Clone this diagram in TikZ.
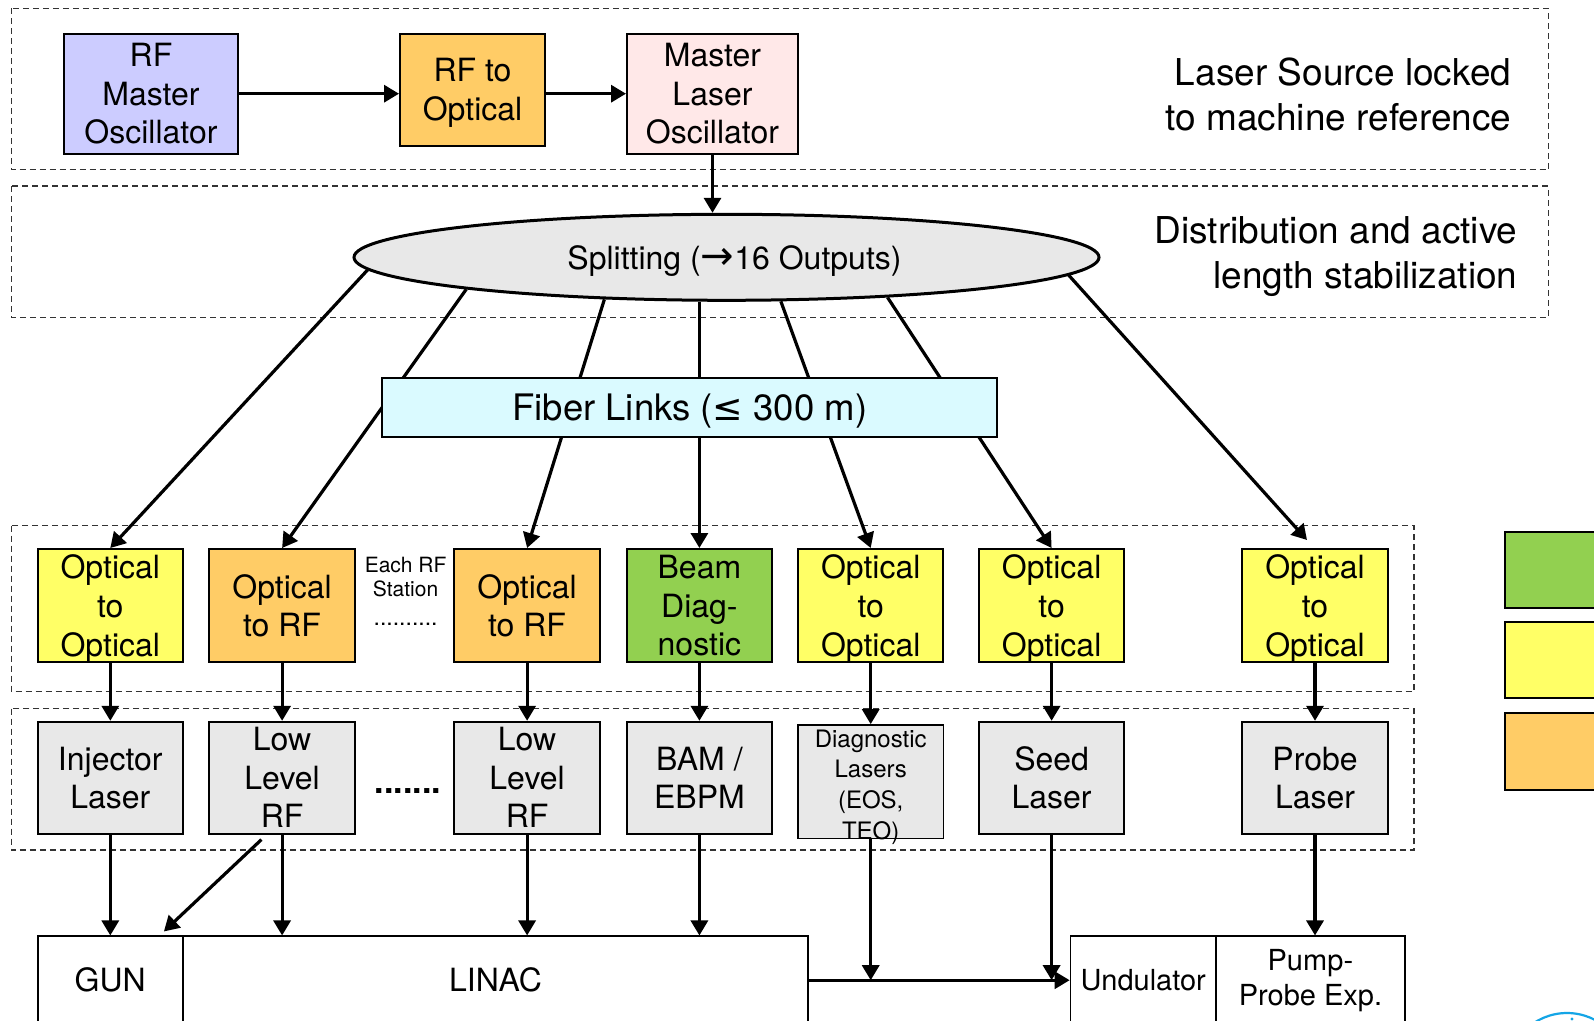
\documentclass[tikz,border=0pt]{standalone}
\usepackage{fontspec}
\setmainfont{TeX Gyre Heros}
\newfontfamily\symfont{DejaVu Sans}
\usetikzlibrary{arrows.meta,shapes.geometric}
\definecolor{lav}{RGB}{204,204,255}
\definecolor{orng}{RGB}{255,204,102}
\definecolor{pinkc}{RGB}{255,232,232}
\definecolor{grayc}{RGB}{232,232,232}
\definecolor{cyanc}{RGB}{218,250,255}
\definecolor{yel}{RGB}{255,255,102}
\definecolor{grn}{RGB}{146,208,80}
\definecolor{logob}{RGB}{20,165,230}
\begin{document}
\begin{tikzpicture}[x=1pt,y=-1pt,
  box/.style={draw, line width=2pt, inner sep=0pt, align=center, text depth=0pt, font=\fontsize{32}{38.6}\selectfont},
  rthree/.style={box, minimum width=145.4pt, minimum height=113pt},
  rfour/.style={box, fill=grayc, minimum width=145.4pt, minimum height=111.8pt},
  bot/.style={draw, line width=1.8pt, inner sep=0pt, align=center, minimum height=87.7pt},
  arr/.style={line width=3.2pt, -{Triangle[length=15pt,width=17pt]}},
  dbox/.style={draw=black!80, line width=1.2pt, dash pattern=on 6pt off 4pt},
  side/.style={anchor=east, align=right, font=\fontsize{37}{45}\selectfont},
  legend/.style={draw, line width=2pt, minimum width=130pt, anchor=north west}]
\useasboundingbox (0,0) rectangle (1594,1020);
\clip (0,0) rectangle (1594,1020);
\fill[white] (0,0) rectangle (1594,1020);

% dashed frames
\draw[dbox] (11.2,8.1) rectangle (1548.3,169.8);
\draw[dbox] (11.2,186) rectangle (1548.3,317.2);
\draw[dbox] (11.2,525.6) rectangle (1414,691.3);
\draw[dbox] (11.2,708.6) rectangle (1414,849.9);

% top row
\node[box, fill=lav, minimum width=174pt, minimum height=120pt] (rfmo) at (151,93.7) {RF\\Master\\Oscillator};
\node[box, fill=orng, minimum width=145pt, minimum height=112pt] (rfopt) at (472.5,89.5) {RF to\\Optical};
\node[box, fill=pinkc, minimum width=171pt, minimum height=120pt] (mlo) at (712.5,93.7) {Master\\Laser\\Oscillator};
\draw[arr] (rfmo.east) -- (rfmo.east -| rfopt.west);
\draw[arr] (rfopt.east |- rfmo.east) -- (mlo.west |- rfmo.east);

\node[side] (t1) at (1515,94.6) {Laser Source locked\\to machine reference};
\node[side] (t2) at (1521,256.6) {Distribution and active\\length stabilization};

% splitter
\node[draw, ellipse, fill=grayc, line width=3pt, minimum width=745pt, minimum height=86pt, inner sep=0pt, text depth=0pt,
      font=\fontsize{32}{38}\selectfont] (split) at (726.5,257.3) {\hspace*{16pt}Splitting ({\symfont\fontsize{40}{40}\selectfont →}16 Outputs)};
\draw[arr] (mlo.south) -- (mlo.south |- split.north);

% row 3
\node[rthree, fill=yel] (oo1) at (110.3,605.5) {Optical\\to\\Optical};
\node[rthree, fill=orng] (or1) at (282.1,605.5) {Optical\\to RF};
\node[rthree, fill=orng] (or2) at (527.1,605.5) {Optical\\to RF};
\node[rthree, fill=grn] (bd) at (699.4,605.5) {Beam\\Diag-\\nostic};
\node[rthree, fill=yel] (oo2) at (870.7,605.5) {Optical\\to\\Optical};
\node[rthree, fill=yel] (oo3) at (1051.6,605.5) {Optical\\to\\Optical};
\node[rthree, fill=yel] (oo4) at (1315,605.5) {Optical\\to\\Optical};

\node[font=\fontsize{21}{24.4}\selectfont, align=center] (each) at (405.6,577) {Each RF\\Station};
\node[font=\fontsize{23}{24}\selectfont] (dotsa) at (405.6,624) {..........};

% fan-out lines
\draw[arr] (split.182.8) -- (oo1.north);
\draw[arr] (split.187.5) -- (or1.north);
\draw[arr] (split.199.8) -- (or2.north);
\draw[arr] (bd.north |- split.south) -- (bd.north);
\draw[arr] (split.321.8) -- (oo2.north);
\draw[arr] (split.346.7) -- (oo3.north);
\draw[arr] (split.357.1) -- ([xshift=-8pt,yshift=8pt]oo4.north);

\node[box, fill=cyanc, minimum width=615pt, minimum height=59pt, font=\fontsize{36.5}{44}\selectfont] (fiber) at (689.8,407.6) {Fiber Links ({\symfont ≤} 300 m)};

% row 4
\node[rfour] (inj) at (110.3,777.7) {Injector\\Laser};
\node[rfour] (llrf1) at (282.1,777.7) {Low\\Level\\RF};
\node[rfour] (llrf2) at (527.1,777.7) {Low\\Level\\RF};
\node[rfour] (bam) at (699.4,777.7) {BAM /\\EBPM};
\node[rfour, line width=1.6pt, minimum height=113.7pt] (diag) at (870.7,781.8) {};
\node[font=\fontsize{24}{30.8}\selectfont, align=center, inner sep=0pt] (diagt) at (870.7,787) {Diagnostic\\Lasers\\(EOS,\\TEO)};
\node[rfour] (seed) at (1051.6,777.7) {Seed\\Laser};
\node[rfour] (probe) at (1315,777.7) {Probe\\Laser};
\node[font=\fontsize{34}{38}\selectfont\bfseries] (dotsb) at (408,791) {.......};

\foreach \a/\b in {oo1/inj, or1/llrf1, or2/llrf2, bd/bam, oo2/diag, oo3/seed, oo4/probe}
  \draw[arr] (\a.south) -- (\b.north);

% bottom row
\node[bot, minimum width=145.4pt, font=\fontsize{32}{38}\selectfont] (gun) at (110.3,980.2) {GUN};
\node[bot, minimum width=625.2pt, font=\fontsize{32}{38}\selectfont] (linac) at (495.6,980.2) {LINAC};
\node[bot, minimum width=145.3pt, font=\fontsize{29}{35}\selectfont] (und) at (1143.2,980.2) {Undulator};
\node[bot, minimum width=189.2pt, font=\fontsize{29}{35}\selectfont] (pump) at (1310.4,980.2) {Pump-\\Probe Exp.};

\draw[arr] (inj.south) -- (inj.south |- gun.north);
\draw[arr] (llrf1.south) -- (llrf1.south |- linac.north);
\draw[arr] ([xshift=53pt,yshift=-5pt]llrf1.south west) -- ([xshift=-20pt,yshift=4pt]gun.north east);
\draw[arr] (llrf2.south) -- (llrf2.south |- linac.north);
\draw[arr] (bam.south) -- (bam.south |- linac.north);
\draw[arr] (linac.east) -- (und.west);
\draw[arr] (diag.south) -- (diag.south |- linac.east);
\draw[arr] (seed.south) -- (seed.south |- linac.east);
\draw[arr] (probe.south) -- (probe.south |- pump.north);

% legend swatches (cut at the right edge)
\node[legend, fill=grn, minimum height=76pt] (lga) at (1504,531) {};
\node[legend, fill=yel, minimum height=76pt] (lgb) at (1504,621) {};
\node[legend, fill=orng, minimum height=77pt] (lgc) at (1504,712) {};

% logo fragment
\draw[logob, line width=2.2pt] (1567,1073) circle[radius=60];
\fill[logob] (1572,1019) circle[radius=1.6];
\end{tikzpicture}
\end{document}
